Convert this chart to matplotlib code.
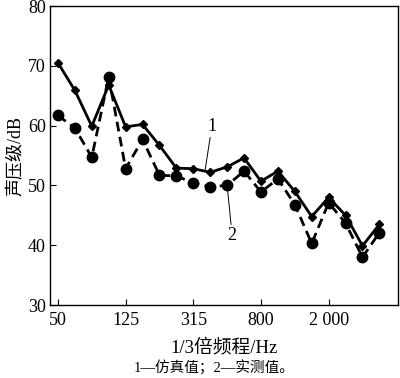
import numpy as np

import matplotlib
matplotlib.use("Agg")
import matplotlib.pyplot as plt

plt.rcParams['font.family'] = ['Liberation Serif', 'Noto Sans CJK SC']

# 1/3 octave band centre frequencies (Hz)
bands = [50, 63, 80, 100, 125, 160, 200, 250, 315, 400, 500, 630,
         800, 1000, 1250, 1600, 2000, 2500, 3150, 4000]
tick_bands = [50, 125, 315, 800, 2000]
tick_labels = ["50", "125", "315", "800", "2 000"]

# 1: simulated, 2: measured (dB)
sim = [70.5, 65.9, 59.9, 66.8, 59.8, 60.2, 56.7, 52.9, 52.8, 52.2,
       53.1, 54.6, 50.7, 52.4, 49.0, 44.8, 48.0, 45.0, 39.9, 43.5]
meas = [61.7, 59.6, 54.7, 68.2, 52.8, 57.7, 51.7, 51.6, 50.4, 49.8,
        50.0, 52.4, 48.9, 51.1, 46.8, 40.3, 47.1, 43.7, 38.0, 42.1]

x = np.arange(len(bands))

fig = plt.figure(figsize=(4.0, 3.78), dpi=100)
ax = fig.add_axes([0.125, 0.193, 0.87, 0.791])

ax.plot(x, sim, "k-", lw=2.0, marker="D", ms=4.5)
ax.plot(x, meas, "k--", lw=2.0, marker="o", ms=7.5, dashes=(3.5, 2))

ax.set_xlim(-0.47, 20.1)
ax.set_ylim(30, 80)
ax.set_xticks([bands.index(b) for b in tick_bands])
ax.set_xticklabels(tick_labels)
ax.set_yticks(np.arange(30, 81, 10))
ax.tick_params(direction="in", labelsize=13, length=4)
ax.tick_params(axis="x", pad=5)
ax.tick_params(axis="y", pad=3)

for s in ax.spines.values():
    s.set_linewidth(1.0)

ax.set_ylabel("声压级/dB", fontsize=13, labelpad=2)
ax.set_xlabel("1/3倍频程/Hz", fontsize=13.5, labelpad=7)

# series labels with leader lines
ax.annotate("1", xy=(8.7, 52.6), xytext=(9.1, 58.5), fontsize=13,
            ha="center", va="bottom",
            arrowprops=dict(arrowstyle="-", lw=0.7, color="k", shrinkA=0, shrinkB=0))
ax.annotate("2", xy=(10.0, 50.0), xytext=(10.3, 43.0), fontsize=13,
            ha="center", va="top",
            arrowprops=dict(arrowstyle="-", lw=0.7, color="k", shrinkA=0, shrinkB=0))

fig.text(0.535, 0.027, "1—仿真值；2—实测值。", ha="center", va="center", fontsize=10.5)

fig.savefig("out.png", dpi=100)
plt.close()
